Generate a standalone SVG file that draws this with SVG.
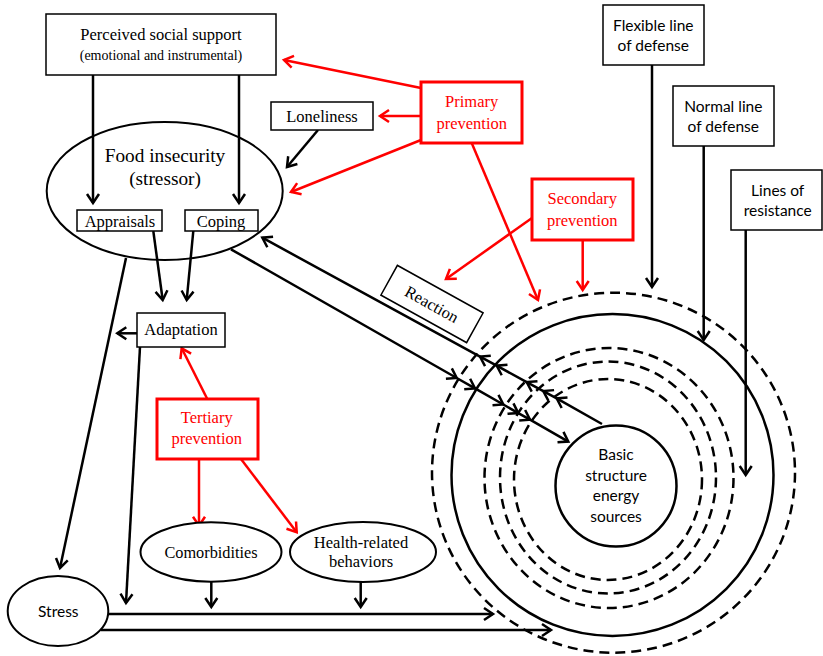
<svg xmlns="http://www.w3.org/2000/svg" width="823" height="656" viewBox="0 0 823 656">
<style>
.bx{fill:#fff;stroke:#000;stroke-width:1.5}
.rb{fill:#fff;stroke:#f00;stroke-width:3}
.el{fill:#fff;stroke:#000;stroke-width:2}
.ser{font-family:"Liberation Serif","Times New Roman",serif;font-size:16.5px;text-anchor:middle;fill:#000}
.red{fill:#f00}
.san{font-family:Lato,"Liberation Sans",Arial,sans-serif;font-size:15.5px;text-anchor:middle;fill:#000}
.ar{fill:none;stroke:#000;stroke-width:2.5;marker-end:url(#ah)}
.arm{fill:none;stroke:#000;stroke-width:2.5;marker-mid:url(#ah);marker-end:url(#ah)}
.rr{fill:none;stroke:#f00;stroke-width:2.5;marker-end:url(#rh)}
.ln{fill:none;stroke:#000;stroke-width:2.5}
.ds{fill:none;stroke:#000;stroke-width:2.5;stroke-dasharray:10 6}
</style>
<defs>
<marker id="ah" viewBox="-2 -2 16 16" refX="11" refY="6" markerWidth="16" markerHeight="16" markerUnits="userSpaceOnUse" orient="auto"><path d="M2,0 L11,6 L2,12" fill="none" stroke="#000" stroke-width="2.5"/></marker>
<marker id="rh" viewBox="-2 -2 16 16" refX="11" refY="6" markerWidth="16" markerHeight="16" markerUnits="userSpaceOnUse" orient="auto"><path d="M2,0 L11,6 L2,12" fill="none" stroke="#f00" stroke-width="2.5"/></marker>
</defs>
<rect width="823" height="656" fill="#fff"/>

<g id="circles">
<ellipse cx="613.5" cy="472.7" rx="181.5" ry="180" class="ds"/>
<circle cx="612.5" cy="475" r="161" class="ln"/>
<ellipse cx="609" cy="478" rx="124.5" ry="130" class="ds"/>
<ellipse cx="608" cy="477.5" rx="108" ry="116" class="ds"/>
<ellipse cx="608" cy="479.5" rx="94" ry="100.5" class="ds"/>
</g>

<g id="food-insecurity">
<ellipse cx="164.7" cy="191" rx="118" ry="69" class="el"/>
<text class="ser" x="165" y="162" style="font-size:19.3px">Food insecurity</text>
<text class="ser" x="165" y="185" style="font-size:19.3px">(stressor)</text>
</g>

<g id="connectors">
<path class="ar" d="M93,75 L93,203"/>
<path class="ar" d="M239,75 L239,203"/>
<path class="ar" d="M318,130 L287,167"/>
<path class="ar" d="M153.3,231 L162.7,300"/>
<path class="ar" d="M193.3,231 L186.7,300"/>
<path class="ar" d="M137,333.3 L117.3,333.3"/>
<path class="ar" d="M126,258 L60,568"/>
<path class="ar" d="M140,347 L126,603"/>
<path class="ar" d="M211.3,582 L211.3,607"/>
<path class="ar" d="M360.7,582 L360.7,607"/>
<path class="ar" d="M108,614 L493,614"/>
<path class="ar" d="M101,630 L551,630"/>
<path class="ar" d="M652,65 L652,287"/>
<path class="ar" d="M703.7,146 L703.7,340"/>
<path class="ar" d="M745.7,230 L745.7,475"/>
<path class="arm" d="M602,424 L556.7,398.4 L543.3,391.1 L526.7,382.1 L496.7,365.7 L480,356.6 L262.3,237.7"/>
<path class="arm" d="M231,249.3 L456.7,378 L475,388.4 L503.3,404.5 L518.3,413.1 L530,419.7 L568.3,441.6"/>
<path class="rr" d="M421,88 L284,60"/>
<path class="rr" d="M421,116 L380,116"/>
<path class="rr" d="M421,140 L291,192"/>
<path class="rr" d="M471.7,143 L538,300"/>
<path class="rr" d="M532,218 L446,279"/>
<path class="rr" d="M582.7,240 L582.7,290"/>
<path class="rr" d="M207.3,399 L181.7,348.3"/>
<path class="rr" d="M199,459 L199,525.7"/>
<path class="rr" d="M241,459 L296.7,532.3"/>
</g>

<g id="basic-structure">
<circle cx="616" cy="486" r="60.5" fill="#fff" stroke="#000" stroke-width="2.5"/>
<text class="san" x="616" y="460">Basic</text>
<text class="san" x="616" y="481">structure</text>
<text class="san" x="616" y="501">energy</text>
<text class="san" x="616" y="521.5">sources</text>
</g>

<g id="perceived-social-support">
<rect class="bx" x="46" y="14" width="230" height="61"/>
<text class="ser" x="161" y="40">Perceived social support</text>
<text class="ser" x="161" y="60" style="font-size:14px">(emotional and instrumental)</text>
</g>

<g id="loneliness">
<rect class="bx" x="271" y="102" width="102" height="28"/>
<text class="ser" x="322" y="121.5">Loneliness</text>
</g>

<g id="appraisals">
<rect class="bx" x="77" y="210" width="85" height="21"/>
<text class="ser" x="120" y="226.5">Appraisals</text>
</g>

<g id="coping">
<rect class="bx" x="185" y="210" width="73" height="21"/>
<text class="ser" x="221" y="226.5">Coping</text>
</g>

<g id="adaptation">
<rect class="bx" x="137" y="313" width="88" height="34"/>
<text class="ser" x="181" y="335">Adaptation</text>
</g>

<g id="primary-prevention">
<rect class="rb" x="421" y="82" width="101" height="61"/>
<text class="ser red" x="471.7" y="106.5">Primary</text>
<text class="ser red" x="471.7" y="128.5">prevention</text>
</g>

<g id="secondary-prevention">
<rect class="rb" x="532" y="179" width="101" height="61"/>
<text class="ser red" x="582.3" y="203.5">Secondary</text>
<text class="ser red" x="582.3" y="225.5">prevention</text>
</g>

<g id="tertiary-prevention">
<rect class="rb" x="157" y="399" width="101" height="60"/>
<text class="ser red" x="206.7" y="422.5">Tertiary</text>
<text class="ser red" x="206.7" y="444">prevention</text>
</g>

<g id="reaction" transform="translate(432,304) rotate(29)">
<rect class="bx" x="-49" y="-17" width="98" height="34"/>
<text class="ser" x="0" y="6">Reaction</text>
</g>

<g id="comorbidities">
<ellipse cx="211" cy="552" rx="70.5" ry="29.7" class="el" stroke-width="1.5"/>
<text class="ser" x="211" y="558.3" style="font-size:16.3px">Comorbidities</text>
</g>

<g id="health-related-behaviors">
<ellipse cx="363" cy="552" rx="73" ry="30" class="el" stroke-width="1.5"/>
<text class="ser" x="361" y="548.3">Health-related</text>
<text class="ser" x="361" y="567.3">behaviors</text>
</g>

<g id="stress">
<ellipse cx="58" cy="611" rx="50.3" ry="35" class="el" stroke-width="1.5"/>
<text class="san" x="58.3" y="617">Stress</text>
</g>

<g id="flexible-line">
<rect class="bx" x="603" y="5" width="101" height="60"/>
<text class="san" x="653.3" y="31">Flexible line</text>
<text class="san" x="653.3" y="51">of defense</text>
</g>

<g id="normal-line">
<rect class="bx" x="673" y="86" width="101" height="60"/>
<text class="san" x="723.3" y="112">Normal line</text>
<text class="san" x="723.3" y="132">of defense</text>
</g>

<g id="lines-of-resistance">
<rect class="bx" x="731" y="170" width="91" height="60"/>
<text class="san" x="777.7" y="196">Lines of</text>
<text class="san" x="777.7" y="216">resistance</text>
</g>
</svg>
